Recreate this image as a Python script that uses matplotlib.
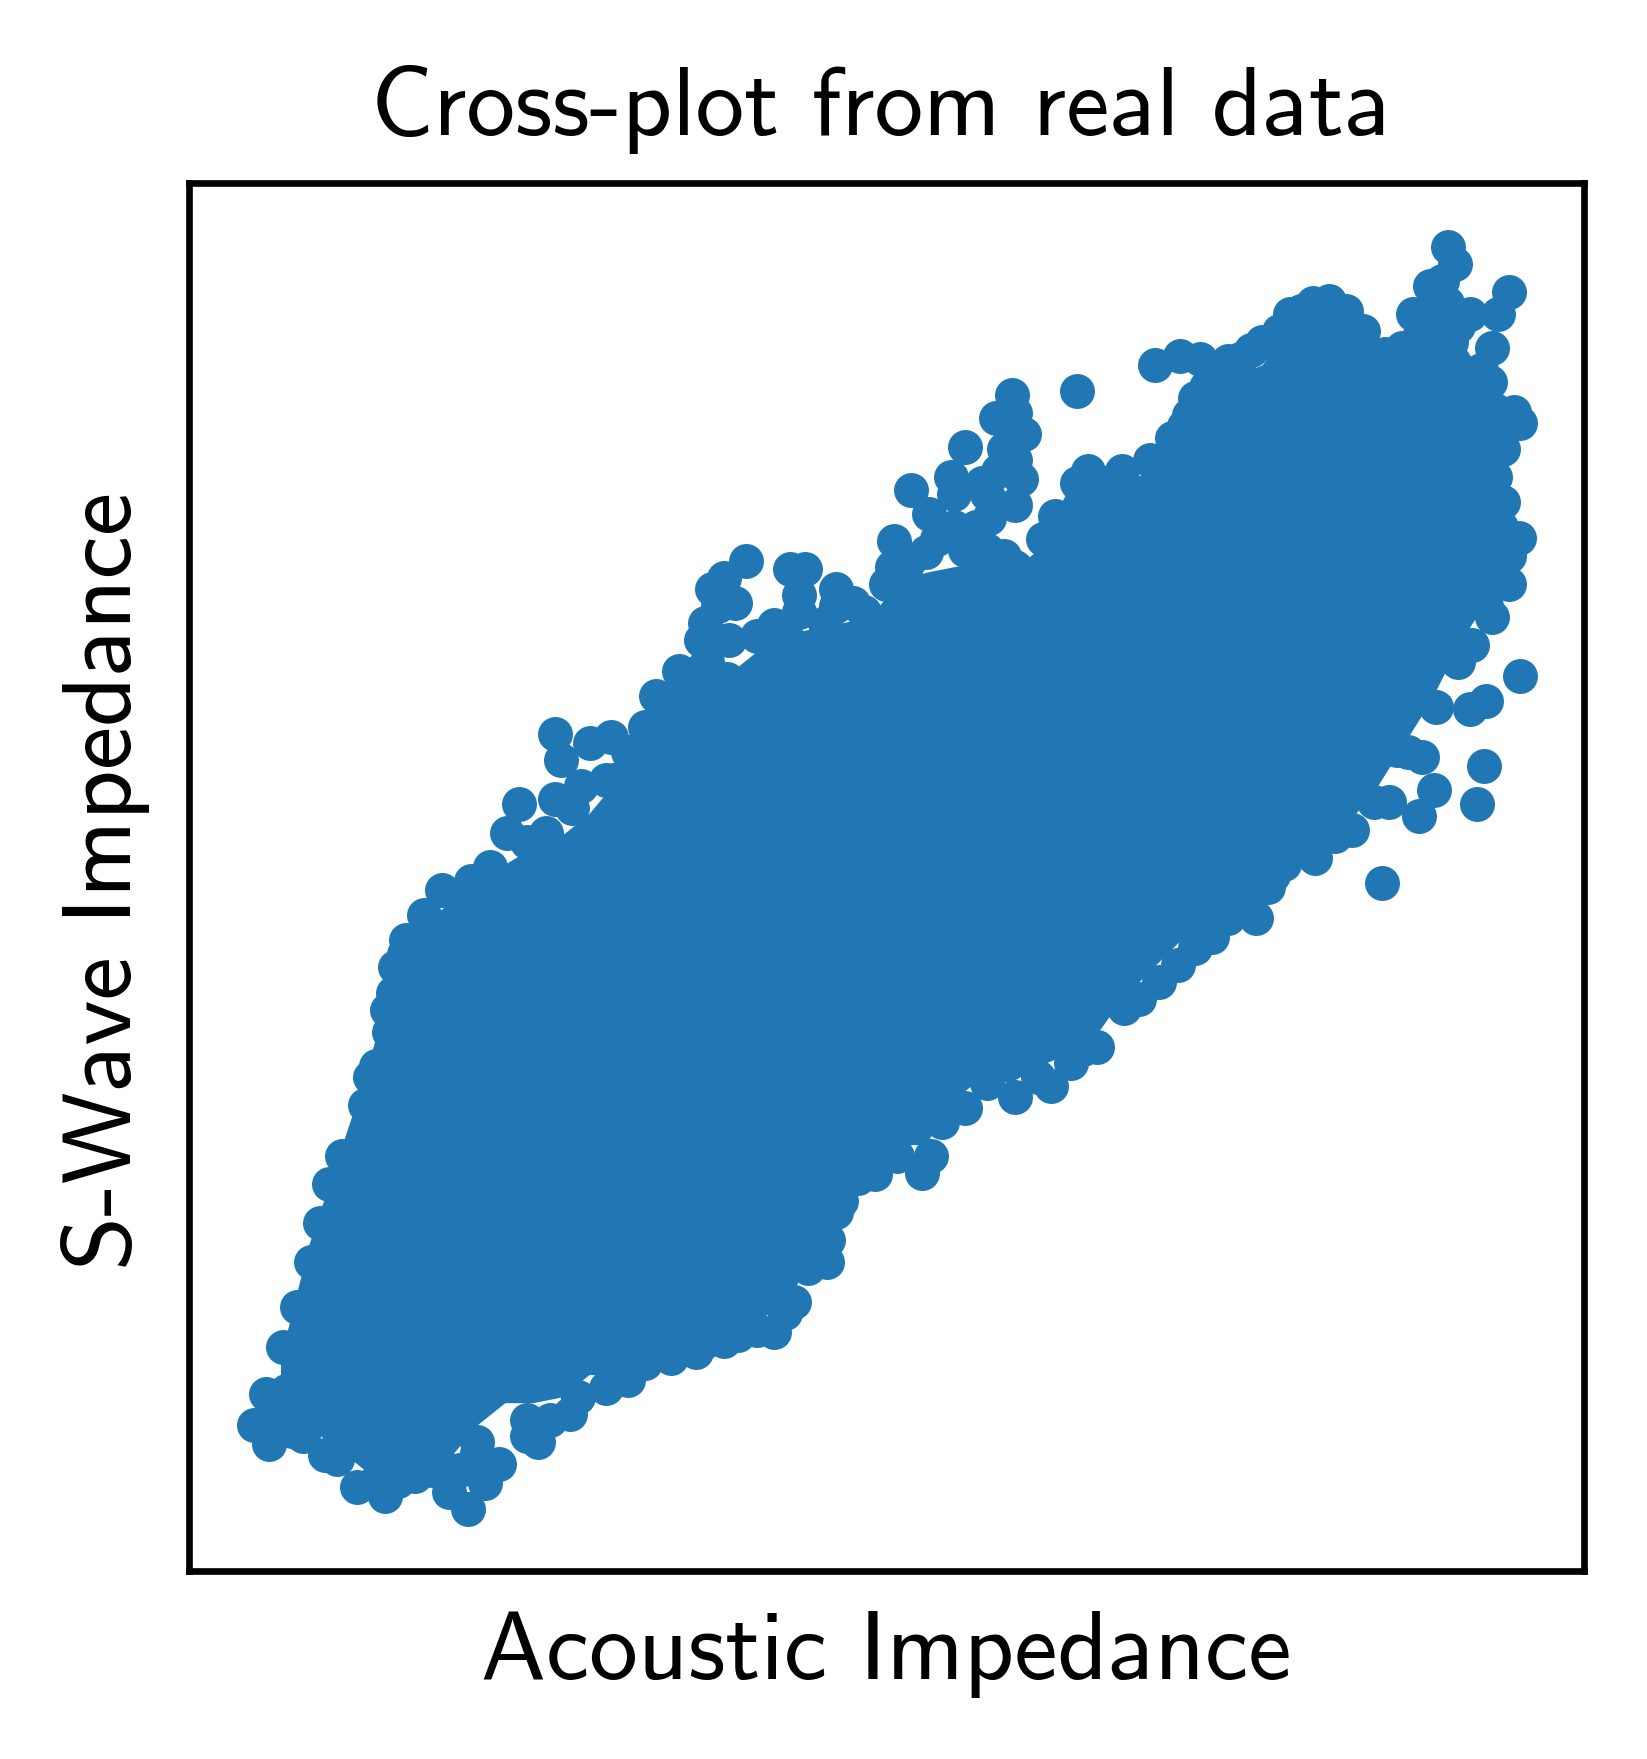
import matplotlib
matplotlib.use('Agg')
import matplotlib.pyplot as plt

# samples along the edge of the cloud and the stragglers outside it (arbitrary impedance units)
acoustic = [58, 72, 69, 84, 97, 109, 117, 125, 137, 157, 167, 179, 182, 184, 194, 210, 226, 252, 269, 284,
            295, 319, 327, 332, 358, 377, 327, 350, 379, 407, 417, 437, 452, 480, 457, 460, 467, 477, 497, 487,
            536, 550, 544, 577, 592, 507, 522, 567, 629, 627, 657, 644, 660, 680, 682, 707, 714, 692, 720, 734,
            737, 745, 742, 737, 792, 737, 762, 772, 792, 802, 832, 857, 862, 884, 902, 927, 947, 897, 887, 972,
            992, 1017, 1032, 1047, 1092, 1107, 1123, 1129, 1117, 1177, 1142, 1167, 1162, 1152, 1142, 1182, 1187, 1172, 1172, 1186,
            1177, 1177, 1162, 1144, 1187, 1157, 1142, 1155, 1149, 1110, 1097, 1100, 1077, 1070, 1037, 1064, 1004, 982, 952, 927,
            897, 865, 834, 810, 787, 769, 737, 692, 662, 654, 612, 582, 570, 569, 552, 540, 522, 490, 459, 430,
            407, 372, 340, 312, 302, 277, 257, 264, 249, 232, 202, 175, 150, 122,
            1122, 1107, 1132, 1102, 1125, 1160, 1165, 1170, 1165, 1170,
            712, 722, 727, 737, 702, 682, 667, 692, 712, 727, 642, 642,
            892, 907, 922, 937, 957, 982, 1002, 1047, 1067, 1082, 1097,
            472, 464, 482, 462, 442, 544, 577,
            132, 92, 167, 187, 217, 242, 257, 232,
            302, 322, 347, 392, 452, 477, 507, 532, 557, 577, 597, 632, 672, 712, 757, 797, 847, 882, 912, 967, 1022, 1057, 1087, 1112, 1132, 1157,
            162, 177, 192, 242, 302, 342, 372, 392, 422, 532, 602, 622, 772, 817, 872, 877,
            937, 962, 977, 87, 82, 102]
s_wave = [130, 113, 158, 200, 235, 275, 310, 345, 370, 415, 450, 480, 515, 538, 562, 585, 607, 615, 627, 658,
          684, 658, 746, 723, 738, 743, 688, 700, 705, 752, 780, 802, 800, 795, 830, 845, 875, 885, 900, 863,
          893, 893, 870, 875, 863, 833, 843, 845, 918, 895, 908, 963, 942, 975, 960, 970, 938, 1002, 1028, 1048,
          1032, 1013, 973, 950, 1052, 895, 920, 940, 970, 980, 980, 990, 1075, 1083, 1080, 1078, 1088, 1045, 1020, 1105,
          1123, 1132, 1123, 1105, 1120, 1145, 1180, 1165, 1150, 1140, 1120, 1120, 1090, 1070, 1050, 1033, 1023, 1000, 953, 921,
          905, 880, 850, 825, 798, 775, 768, 717, 684, 696, 673, 725, 732, 685, 660, 613, 635, 640, 582, 582,
          555, 525, 502, 467, 453, 432, 422, 413, 370, 355, 354, 330, 295, 275, 270, 240, 213, 210, 203, 190,
          185, 163, 140, 115, 120, 95, 115, 78, 55, 70, 85, 67, 75, 103,
          1130, 1120, 1110, 1100, 1095, 1060, 1035, 1010, 975, 930,
          960, 980, 1000, 990, 930, 930, 920, 910, 910, 905, 900, 880,
          1030, 1055, 1065, 1080, 1095, 1120, 1130, 1090, 1085, 1090, 1100,
          860, 830, 830, 810, 790, 855, 860,
          100, 125, 80, 80, 90, 90, 105, 90,
          135, 135, 155, 170, 195, 205, 215, 230, 280, 320, 350, 370, 400, 435, 440, 465, 510, 540, 565, 620, 655, 685, 730, 770, 810, 860,
          440, 500, 550, 600, 650, 680, 705, 730, 770, 840, 855, 880, 930, 970, 990, 1010,
          600, 610, 630, 160, 140, 120]

# the cloud is saturated inside, so only its envelope is kept
core_acoustic = [82, 107, 132, 157, 182, 207, 232, 257, 282, 307, 332, 357, 382, 407, 432, 457, 482, 507, 532, 557, 582, 607,
                 632, 657, 682, 707, 732, 757, 782, 807, 832, 857, 882, 907, 932, 957, 982, 1007, 1032, 1057, 1082, 1107, 1132, 1157, 1172]
core_top = [190, 290, 365, 440, 530, 575, 595, 610, 630, 645, 655, 675, 705, 750, 785, 790, 800, 820, 835, 840, 845, 850,
            880, 890, 895, 900, 890, 910, 960, 970, 970, 980, 1025, 1045, 1065, 1075, 1110, 1125, 1120, 1085, 1085, 1100, 1100, 1060, 1000]
core_bottom = [135, 128, 110, 90, 85, 95, 100, 130, 150, 150, 155, 175, 175, 195, 195, 205, 215, 225, 235, 285, 335, 360,
               380, 380, 420, 440, 435, 450, 460, 475, 510, 535, 560, 575, 575, 590, 620, 640, 665, 695, 735, 775, 825, 865, 890]

plt.rcParams['font.family'] = ['cmss10', 'DejaVu Sans']
plt.rcParams['axes.formatter.use_mathtext'] = True

W, H = 1647, 1759
fig = plt.figure(figsize=(W / 600, H / 600), dpi=600)
ax = fig.add_axes([188.5 / W, 1 - 1571 / H, (1584 - 188.5) / W, (1571 - 183) / H])

ax.fill_between(core_acoustic, core_bottom, core_top, color='#2077b4', linewidth=0)
ax.scatter(acoustic, s_wave, s=17.6, color='#2077b4', linewidths=0)

ax.set_xlim(0, 1244)
ax.set_ylim(0, 1237)
ax.set_xticks([])
ax.set_yticks([])
ax.set_title('Cross-plot from real data', fontsize=11.7, pad=5.8, x=0.496)
ax.set_xlabel('Acoustic Impedance', fontsize=11.7, labelpad=4.8)
ax.set_ylabel('S-Wave Impedance', fontsize=11.7, labelpad=4.6, y=0.497)

plt.savefig('out.png', dpi=600)
